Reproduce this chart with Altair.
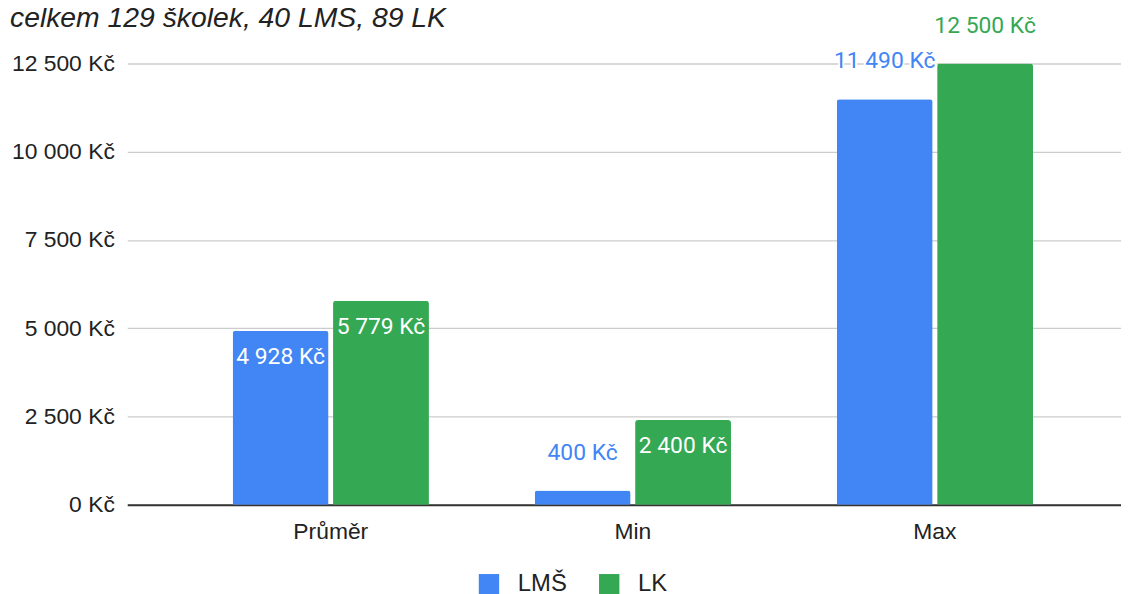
import altair as alt
import pandas as pd

categories = ["Průměr", "Min", "Max"]
series = ["LMŠ", "LK"]
lms_values = [4928, 400, 11490]
lk_values = [5779, 2400, 12500]
y_ticks = [0, 2500, 5000, 7500, 10000, 12500]
title_text = "celkem 129 školek, 40 LMS, 89 LK"

rows = []
for c, a, b in zip(categories, lms_values, lk_values):
    rows.append({"cat": c, "series": series[0], "value": a})
    rows.append({"cat": c, "series": series[1], "value": b})
df = pd.DataFrame(rows)

BLUE = "#4285F4"
GREEN = "#34A853"
LABEL_FONT = "Liberation Sans"
DATA_FONT = "Roboto"

color_scale = alt.Scale(domain=series, range=[BLUE, GREEN])

x_enc = alt.X(
    "cat:N",
    sort=categories,
    scale=alt.Scale(paddingInner=0.35, paddingOuter=0.32, align=0.545),
    axis=alt.Axis(
        title=None, labelAngle=0, ticks=False, domain=True,
        domainColor="#333333", domainWidth=2,
        labelFont=LABEL_FONT, labelFontSize=23, labelColor="#222222",
        labelPadding=16, grid=False,
    ),
)
xo_enc = alt.XOffset("series:N", sort=series,
                     scale=alt.Scale(paddingInner=0.045, paddingOuter=0))
y_enc = alt.Y(
    "value:Q",
    scale=alt.Scale(domain=[0, 12500], nice=False),
    axis=alt.Axis(
        title=None, values=y_ticks, ticks=False, domain=False,
        gridColor="#cccccc", gridWidth=1.3,
        labelFont=LABEL_FONT, labelFontSize=23, labelColor="#222222",
        labelPadding=13,
        labelExpr="replace(format(datum.value, ','), ',', ' ') + ' Kč'",
    ),
)

base = alt.Chart(df).transform_calculate(
    label="replace(format(datum.value, ','), ',', ' ') + ' Kč'",
    inside="datum.value >= 1000 && datum.value < 10000",
).encode(x=x_enc, xOffset=xo_enc, y=y_enc)

bars = base.mark_bar(cornerRadiusTopLeft=3, cornerRadiusTopRight=3).encode(
    color=alt.Color(
        "series:N", scale=color_scale, sort=series,
        legend=alt.Legend(
            title=None, orient="none", legendX=352, legendY=512,
            direction="horizontal", symbolType="square", symbolSize=420,
            symbolStrokeWidth=0, labelFont=LABEL_FONT, labelFontSize=24,
            labelColor="#222222", labelOffset=17, columnPadding=30, padding=0,
        ),
    )
)

outside = base.transform_filter("!datum.inside")
halo = outside.mark_text(
    font=DATA_FONT, fontSize=23, dy=-38, baseline="middle",
    stroke="white", strokeWidth=4, fill="white",
).encode(text="label:N")
out_text = outside.mark_text(
    font=DATA_FONT, fontSize=23, dy=-38, baseline="middle",
).encode(text="label:N", color=alt.Color("series:N", scale=color_scale, sort=series, legend=None))

in_text = base.transform_filter("datum.inside").mark_text(
    font=DATA_FONT, fontSize=23, dy=26, baseline="middle", color="white",
).encode(text="label:N")

chart = alt.layer(bars, halo, out_text, in_text).properties(
    width=1000,
    height=444,
    title=alt.TitleParams(
        text=title_text, anchor="start", frame="group", dx=-118, dy=41,
        font=LABEL_FONT, fontSize=28.5, fontStyle="italic", fontWeight="normal",
        color="#222222", baseline="alphabetic", orient="top", offset=0,
    ),
    autosize=alt.AutoSizeParams(type="none"),
    padding={"left": 120, "top": 54, "right": 0, "bottom": 88},
).configure_view(stroke=None)

chart.save("out.html", embed_options={"renderer": "svg", "actions": False})
